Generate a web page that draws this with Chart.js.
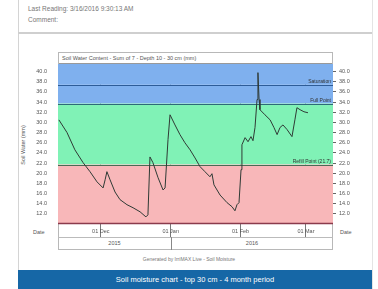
<!DOCTYPE html>
<html>
<head>
<meta charset="utf-8">
<script src="https://cdn.jsdelivr.net/npm/chart.js@4/dist/chart.umd.min.js"></script>
<style>
  html, body { margin: 0; padding: 0; background: #fff; }
  body { width: 378px; height: 289px; position: relative; overflow: hidden; font-family: "Liberation Sans", Arial, sans-serif; }
  .card { position: absolute; left: 18px; top: 0; width: 353px; height: 289px; border-left: 1px solid #d4d4d4; border-right: 1px solid #e4e4e4; }
  .hdr { position: absolute; left: 28px; font-size: 6.5px; color: #777; }
  .rule { position: absolute; left: 18px; top: 32px; width: 354px; height: 2px; background: #cfcfcf; }
  .frame { position: absolute; left: 58px; top: 52px; width: 275px; height: 198px; border: 1px solid #b8b8b8; box-sizing: border-box; }
  .strip { position: absolute; left: 59px; top: 53px; width: 273px; height: 11px; font-size: 5.5px; color: #555; line-height: 11px; padding-left: 3px; box-sizing: border-box; border-bottom: 1px solid #999; }
  .row { position: absolute; left: 58px; width: 275px; height: 1px; background: #bbb; }
  .yr { position: absolute; top: 240px; font-size: 5.5px; color: #555; }
  .side { position: absolute; top: 229px; font-size: 5.5px; color: #555; }
  .gen { position: absolute; left: 0; width: 378px; top: 256px; text-align: center; font-size: 5px; color: #777; }
  .foot { position: absolute; left: 18px; top: 270px; width: 354px; height: 19px; background: #1667a6; color: #fff; font-size: 7.5px; text-align: center; line-height: 19px; }
  .ytitle { position: absolute; left: 23px; top: 145px; font-size: 5.5px; color: #555; transform: translate(-50%, -50%) rotate(-90deg); white-space: nowrap; }
  canvas { position: absolute; left: 0; top: 0; }
</style>
</head>
<body>
<div class="card"></div>
<div class="hdr" style="top:5px">Last Reading: 3/16/2016 9:30:13 AM</div>
<div class="hdr" style="top:16px">Comment:</div>
<div class="rule"></div>
<div class="frame"></div>
<div class="strip">Soil Water Content - Sum of 7 - Depth 10 - 30 cm (mm)</div>
<div class="row" style="top:237px"></div>
<div class="yr" id="y2015">2015</div>
<div class="yr" id="y2016">2016</div>
<div class="side" style="left:33px">Date</div>
<div class="side" style="left:340px">Date</div>
<div class="ytitle">Soil Water (mm)</div>
<div class="gen">Generated by IrriMAX Live - Soil Moisture</div>
<div class="foot">Soil moisture chart - top 30 cm - 4 month period</div>
<canvas id="c" width="378" height="289"></canvas>
<script>
// days counted from 12 Nov 2015
const days = [0.4, 4.0, 7.5, 11.1, 14.2, 17.3, 20.0, 20.9, 21.7, 23.1, 25.3, 27.5, 30.6, 33.3, 36.4, 39.0, 39.9,
  40.8, 42.1, 44.4, 46.6, 47.5, 48.8, 49.7, 51.9, 54.1, 56.3, 58.6, 60.8, 63.0, 65.2, 67.4, 68.3, 69.2, 71.9,
  75.0, 77.2, 78.5, 79.4, 80.3, 81.2, 81.6, 83.0, 84.3, 85.6, 86.5, 87.4, 88.3, 88.7, 89.2, 89.6, 91.8, 94.1,
  95.8, 97.2, 98.5, 99.8, 101.6, 103.8, 105.1, 106.0, 107.4, 109.1, 110.9];
const soilWater = [30.5, 28.0, 24.6, 22.1, 20.3, 18.3, 17.1, 18.7, 20.3, 18.7, 16.3, 14.8, 13.8, 13.2, 12.4, 11.4, 11.8,
  23.2, 22.1, 19.1, 16.7, 17.1, 26.6, 31.5, 29.5, 27.6, 26.0, 24.6, 23.0, 21.3, 20.3, 19.3, 19.9, 17.7, 15.7,
  14.2, 13.4, 12.6, 13.8, 14.2, 20.7, 25.6, 27.0, 26.2, 27.2, 26.4, 29.0, 34.5, 39.8, 34.5, 32.5, 31.5, 30.5,
  29.0, 27.6, 29.0, 29.5, 28.6, 27.2, 30.5, 32.9, 32.5, 32.1, 31.9];

const monthDays = [19, 50, 81, 110];
const monthLabels = ['01 Dec', '01 Jan', '01 Feb', '01 Mar'];
const yTicks = [40, 38, 36, 34, 32, 30, 28, 26, 24, 22, 20, 18, 16, 14, 12];

// zone limits: top of chart, full line, full point, refill point, bottom
const zoneLimits = [41.5, 37.4, 33.7, 21.7, 10];
const zoneColors = ['#7fb0ee', '#7fb0ee', '#80f2b6', '#f8b7b9'];
const lineLabels = ['Saturation', 'Full Point', 'Refill Point (21.7)'];
const lineColors = ['#2d5c98', '#2d6a78', '#4a6a55'];

const zones = {
  id: 'zones',
  beforeDatasetsDraw(chart) {
    const { ctx, chartArea: a, scales: { y } } = chart;
    ctx.save();
    for (let i = 0; i < zoneColors.length; i++) {
      const t = y.getPixelForValue(zoneLimits[i]), b = y.getPixelForValue(zoneLimits[i + 1]);
      ctx.fillStyle = zoneColors[i];
      ctx.fillRect(a.left, t, a.right - a.left, b - t);
    }
    ctx.font = '5px "Liberation Sans", Arial, sans-serif';
    ctx.textAlign = 'right';
    ctx.textBaseline = 'bottom';
    for (let i = 0; i < lineLabels.length; i++) {
      const p = Math.round(y.getPixelForValue(zoneLimits[i + 1])) + 0.5;
      ctx.strokeStyle = lineColors[i]; ctx.lineWidth = 1.2;
      ctx.beginPath(); ctx.moveTo(a.left, p); ctx.lineTo(a.right, p); ctx.stroke();
      ctx.fillStyle = '#333';
      ctx.fillText(lineLabels[i], a.right - 2, p - 1);
    }
    const bt = Math.round(y.getPixelForValue(zoneLimits[4])) - 0.5;
    ctx.strokeStyle = '#8a3a4c'; ctx.lineWidth = 1.5;
    ctx.beginPath(); ctx.moveTo(a.left, bt); ctx.lineTo(a.right, bt); ctx.stroke();
    ctx.restore();
  }
};

const tickFont = { family: '"Liberation Sans", Arial, sans-serif', size: 5.5 };

const chart = new Chart(document.getElementById('c'), {
  type: 'line',
  data: {
    datasets: [{
      data: days.map((d, i) => ({ x: d, y: soilWater[i] })),
      borderColor: '#2f3a35', borderWidth: 1, pointRadius: 0, tension: 0, fill: false,
    }],
  },
  options: {
    responsive: false, animation: false, events: [],
    layout: { padding: { top: 64, left: 0, right: 0, bottom: 0 } },
    plugins: { legend: { display: false }, tooltip: { enabled: false } },
    scales: {
      x: {
        type: 'linear', min: 0, max: 122,
        afterBuildTicks: s => { s.ticks = monthDays.map(v => ({ value: v })); },
        afterFit: s => { s.height = 65; },
        ticks: { callback: (v) => monthLabels[monthDays.indexOf(v)], font: tickFont, color: '#555', padding: -9, maxRotation: 0 },
        grid: { color: '#555', lineWidth: 0.8, drawTicks: true, tickLength: 13 },
        border: { display: false },
      },
      y: {
        position: 'left', min: 10, max: 41.5,
        afterBuildTicks: s => { s.ticks = yTicks.map(v => ({ value: v })); },
        afterFit: s => { s.width = 58; },
        ticks: { callback: v => v.toFixed(1), font: tickFont, color: '#555', padding: 3 },
        grid: { display: false },
        border: { display: false },
      },
      y2: {
        position: 'right', min: 10, max: 41.5,
        afterBuildTicks: s => { s.ticks = yTicks.map(v => ({ value: v })); },
        afterFit: s => { s.width = 45; },
        ticks: { callback: v => v.toFixed(1), font: tickFont, color: '#555', padding: 3 },
        grid: { display: true, drawOnChartArea: false, tickLength: 3, color: '#666' },
        border: { display: false },
      },
    },
  },
  plugins: [zones],
});

// year labels centred under their part of the date axis
const xs = chart.scales.x;
const janPx = xs.getPixelForValue(monthDays[1]);
document.getElementById('y2015').style.left = ((xs.left + janPx) / 2 - 6) + 'px';
document.getElementById('y2016').style.left = ((janPx + xs.right) / 2 - 6) + 'px';
const divider = document.createElement('div');
divider.style.cssText = `position:absolute;left:${Math.round(janPx)}px;top:237px;width:1px;height:13px;background:#888`;
document.body.appendChild(divider);
</script>
</body>
</html>
